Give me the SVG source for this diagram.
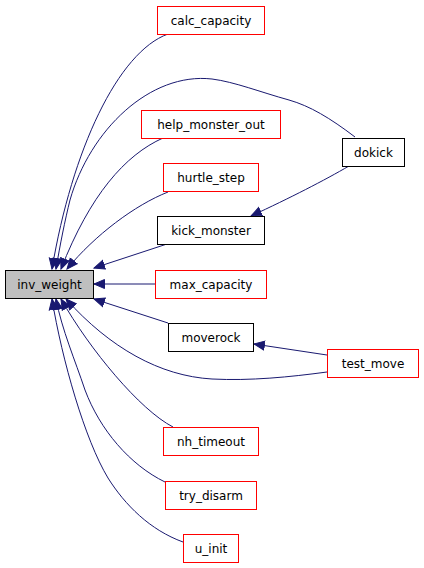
<svg xmlns="http://www.w3.org/2000/svg" width="424" height="568" viewBox="0 0 424 568">
<style>
.n rect{fill:#fff;stroke:#ff0000;stroke-width:1}
.n.b rect{stroke:#000}
.n.g rect{fill:#bfbfbf;stroke:#000}
.n text{font-family:"DejaVu Sans",sans-serif;font-size:12px;fill:#000;text-anchor:middle}
.e path{fill:none;stroke:#191970;stroke-width:1;marker-end:url(#ah)}
</style>
<defs>
<marker id="ah" markerUnits="userSpaceOnUse" markerWidth="13" markerHeight="11" refX="11" refY="5" orient="auto" viewBox="0 0 13 10">
<path d="M0.5,0.5 L11,5 L0.5,9.5 z" fill="#191970" stroke="#191970" stroke-width="1"/>
</marker>
</defs>
<rect width="424" height="568" fill="#fff"/>
<g id="edges" class="e">
<path d="M168,34 C118,52 72,150 52,269"/>
<path d="M355,137 C330,118 310,106 289,100 C260,92 235,82 212,79 C150,72 90,130 70,200 C65,220 60,245 56,269"/>
<path d="M163,138 C125,155 90,195 61,269"/>
<path d="M168,192 C135,205 95,235 67,269"/>
<path d="M167,244 L94,268"/>
<path d="M155,284 L94,284"/>
<path d="M168,323 L94,299"/>
<path d="M349,166 C325,180 290,198 251,216"/>
<path d="M327,355 L254,344"/>
<path d="M327,372 C290,377 250,381 212,379 C160,376 110,348 66,299"/>
<path d="M173,427 C140,410 90,350 61,299"/>
<path d="M165,482 C130,465 100,430 85,390 C75,360 62,330 56,299"/>
<path d="M183,542 C150,530 125,505 108,478 C85,440 62,360 52,299"/>
</g>
<g id="inv_weight" class="n g"><rect x="5.5" y="270.5" width="88" height="28"/><text x="49.5" y="289">inv_weight</text></g>
<g id="calc_capacity" class="n"><rect x="157.5" y="6.5" width="107" height="28"/><text x="211" y="25">calc_capacity</text></g>
<g id="dokick" class="n b"><rect x="342.5" y="138.5" width="62" height="28"/><text x="373.5" y="157">dokick</text></g>
<g id="help_monster_out" class="n"><rect x="141.5" y="110.5" width="139" height="28"/><text x="211" y="129">help_monster_out</text></g>
<g id="hurtle_step" class="n"><rect x="163.5" y="163.5" width="95" height="28"/><text x="211" y="182">hurtle_step</text></g>
<g id="kick_monster" class="n b"><rect x="157.5" y="216.5" width="107" height="28"/><text x="211" y="235">kick_monster</text></g>
<g id="max_capacity" class="n"><rect x="155.5" y="270.5" width="111" height="28"/><text x="211" y="289">max_capacity</text></g>
<g id="moverock" class="n b"><rect x="168.5" y="323.5" width="85" height="28"/><text x="211" y="342">moverock</text></g>
<g id="test_move" class="n"><rect x="327.5" y="349.5" width="91" height="28"/><text x="373" y="368">test_move</text></g>
<g id="nh_timeout" class="n"><rect x="163.5" y="427.5" width="95" height="28"/><text x="211" y="446">nh_timeout</text></g>
<g id="try_disarm" class="n"><rect x="165.5" y="481.5" width="91" height="28"/><text x="211" y="500">try_disarm</text></g>
<g id="u_init" class="n"><rect x="183.5" y="534.5" width="55" height="28"/><text x="211" y="553">u_init</text></g>
</svg>
